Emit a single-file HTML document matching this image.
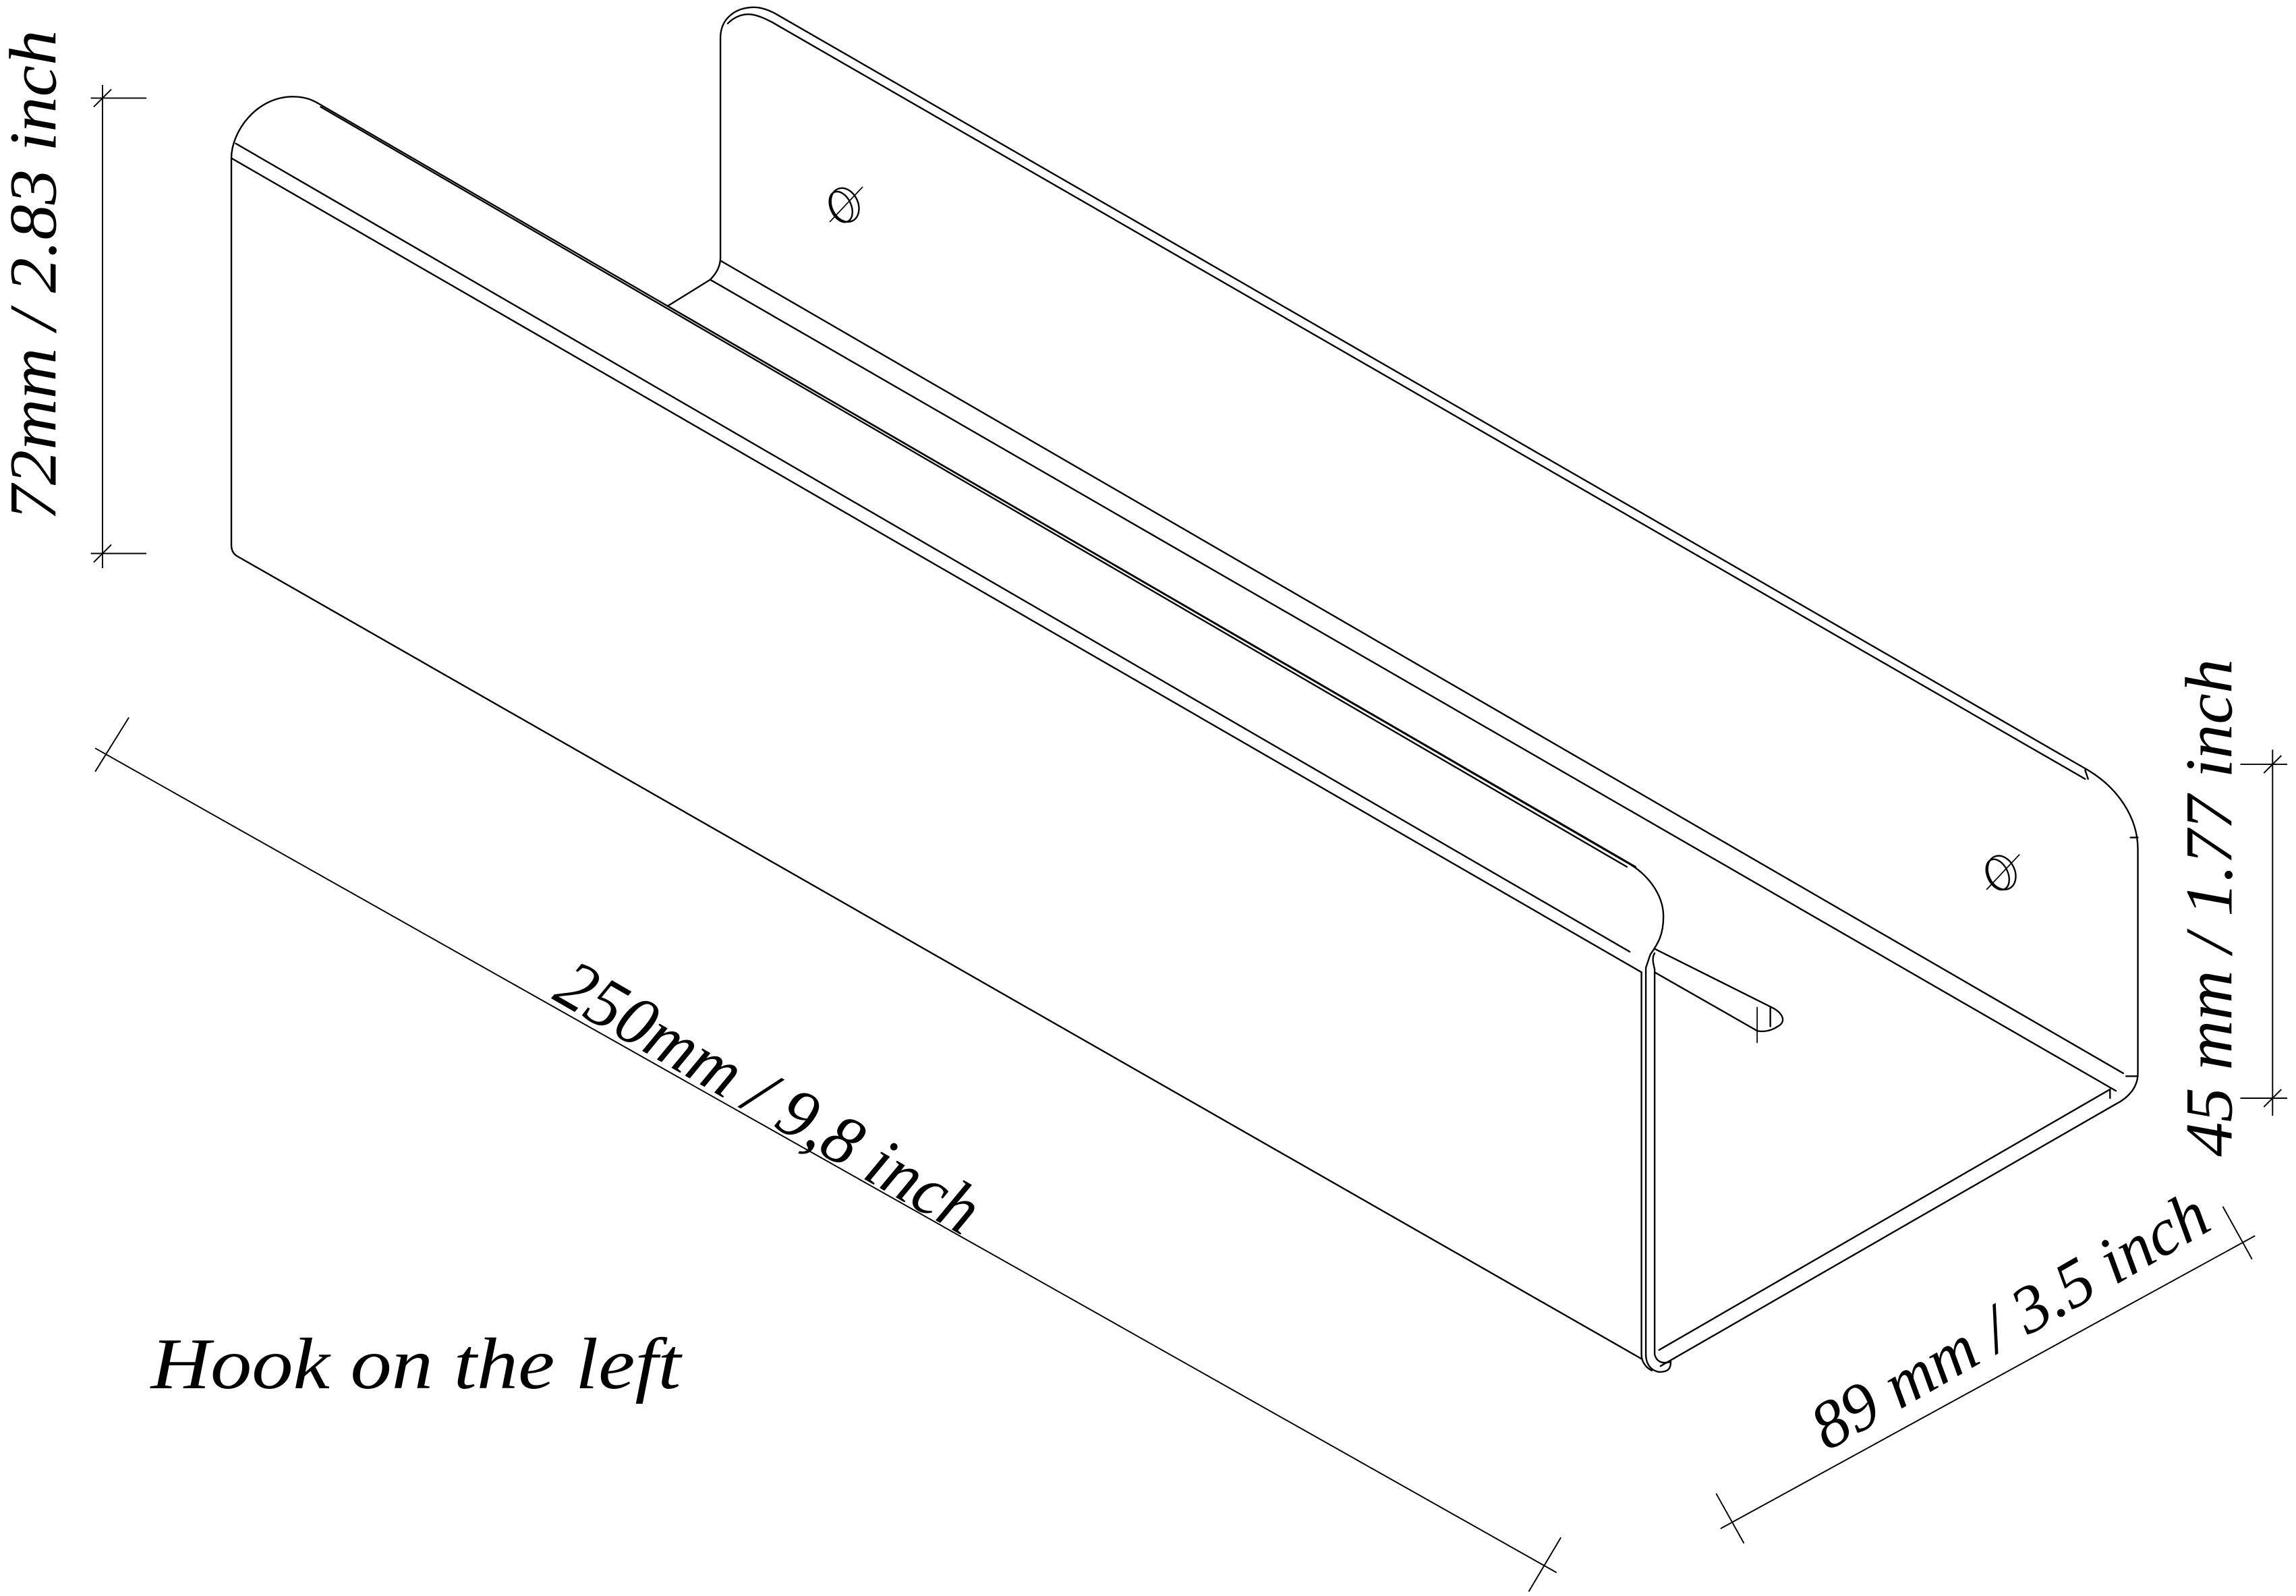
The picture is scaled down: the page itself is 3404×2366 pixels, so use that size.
<!DOCTYPE html>
<html><head><meta charset="utf-8"><style>
html,body{margin:0;padding:0;background:#fff;}
svg{display:block;}
text{font-family:"Liberation Serif",serif;font-style:italic;fill:#000;}
</style></head><body>
<svg width="3404" height="2366" viewBox="0 0 1568 1090" preserveAspectRatio="none" xmlns="http://www.w3.org/2000/svg">
<g fill="none" stroke="#000" stroke-width="1.1" stroke-linejoin="round" stroke-linecap="round">
<!-- Back panel -->
<path d="M492,176 L492,26 C492,12 503,5 515,5 C520,5 525,7 529,9 L1426,526 C1446,538 1460,558 1460,580 L1460,733 C1460,743 1453,750 1445,754"/>
<path d="M497,16 C502,11 508,9 514,10 C519,11 523,13 527,15 L1424,532"/>
<path d="M1424,526 L1426,532"/>
<path d="M1455,572 L1460,572"/>
<path d="M1452,735 L1460,735"/>
<!-- back/floor junction -->
<path d="M492,176 C492,182 489,187 485,191 L456,209"/>
<path d="M492,178 L1450,733"/>
<path d="M485,191 L1445,745"/>
<path d="M456,209 L1117,592"/>
<!-- Floor front edge -->
<path d="M1445,754 L1134,933"/>
<path d="M1441,744 L1133,922"/>
<path d="M1441,744 L1441,750"/>
<!-- Front panel -->
<path d="M158,372 L158,108 C158,90 175,66 200,66 C208,66 213,68 218,71 L1111,589 C1124,596 1136,610 1136,626 C1136,640 1131,646 1127,652 L1124,661 L1124,925 C1124,931 1127,936 1133,937 C1140,937 1141,934 1141,930"/>
<path d="M219,73 L1111,592"/>
<path d="M161,98 L1113,650"/>
<path d="M158,108 L1121,664"/>
<path d="M1130,651 C1128,654 1129,658 1130,662 L1130,925"/>
<path d="M1121,664 L1121,925 C1121,930 1124,934 1128,936"/>
<path d="M1130,925 C1131,929 1134,932 1141,930"/>
<path d="M158,372 C158,377 160,379 164,381 L1121,928"/>
<!-- slot -->
<path d="M1130,648 L1210,688 C1218,692 1220,698 1214,701 C1210,704 1204,705 1200,704 L1130,664"/>
<path d="M1209,688 L1209,701"/>
<path d="M1200,688 L1200,712" stroke-width="0.8"/>
<!-- holes -->
<g transform="translate(577,140) rotate(-25)">
<ellipse cx="0" cy="0" rx="9" ry="12"/>
<ellipse cx="-3" cy="0" rx="7" ry="11"/>
<path d="M-14,6 L16,-6" stroke-width="0.8"/>
</g>
<g transform="translate(1367,596) rotate(-25)">
<ellipse cx="0" cy="0" rx="9" ry="12"/>
<ellipse cx="-3" cy="0" rx="7" ry="11"/>
<path d="M-14,6 L16,-6" stroke-width="0.8"/>
</g>
</g>
<!-- dimensions -->
<g fill="none" stroke="#000" stroke-width="0.9">
<path d="M70,58 L70,388"/>
<path d="M62,67 L100,67 M62,378 L100,378"/>
<path d="M64,73 L76,61 M64,384 L76,372"/>
<path d="M1552,512 L1552,762"/>
<path d="M1530,522 L1562,522 M1530,750 L1562,750"/>
<path d="M1546,528 L1558,516 M1546,756 L1558,744"/>
<path d="M65,511 L1063,1074"/>
<path d="M88,490 L65,527 M1066,1050 L1044,1087"/>
<path d="M1175,1044 L1540,844"/>
<path d="M1172,1020 L1191,1054 M1518,824 L1538,860"/>
</g>
<text x="0" y="0" font-size="46" text-anchor="middle" textLength="335" lengthAdjust="spacingAndGlyphs" transform="translate(38,188) rotate(-90)">72mm / 2.83 inch</text>
<text x="0" y="0" font-size="46" text-anchor="middle" textLength="340" lengthAdjust="spacingAndGlyphs" transform="translate(1524,620) rotate(-90)">45 mm / 1.77 inch</text>
<text x="0" y="0" font-size="48" text-anchor="middle" textLength="325" lengthAdjust="spacingAndGlyphs" transform="translate(517,763) rotate(30)">250mm / 9,8 inch</text>
<text x="0" y="0" font-size="46" text-anchor="middle" textLength="305" lengthAdjust="spacingAndGlyphs" transform="translate(1380,915) rotate(-30)">89 mm / 3.5 inch</text>
<text x="103" y="948" font-size="50" textLength="362" lengthAdjust="spacingAndGlyphs">Hook on the left</text>
</svg>
</body></html>
